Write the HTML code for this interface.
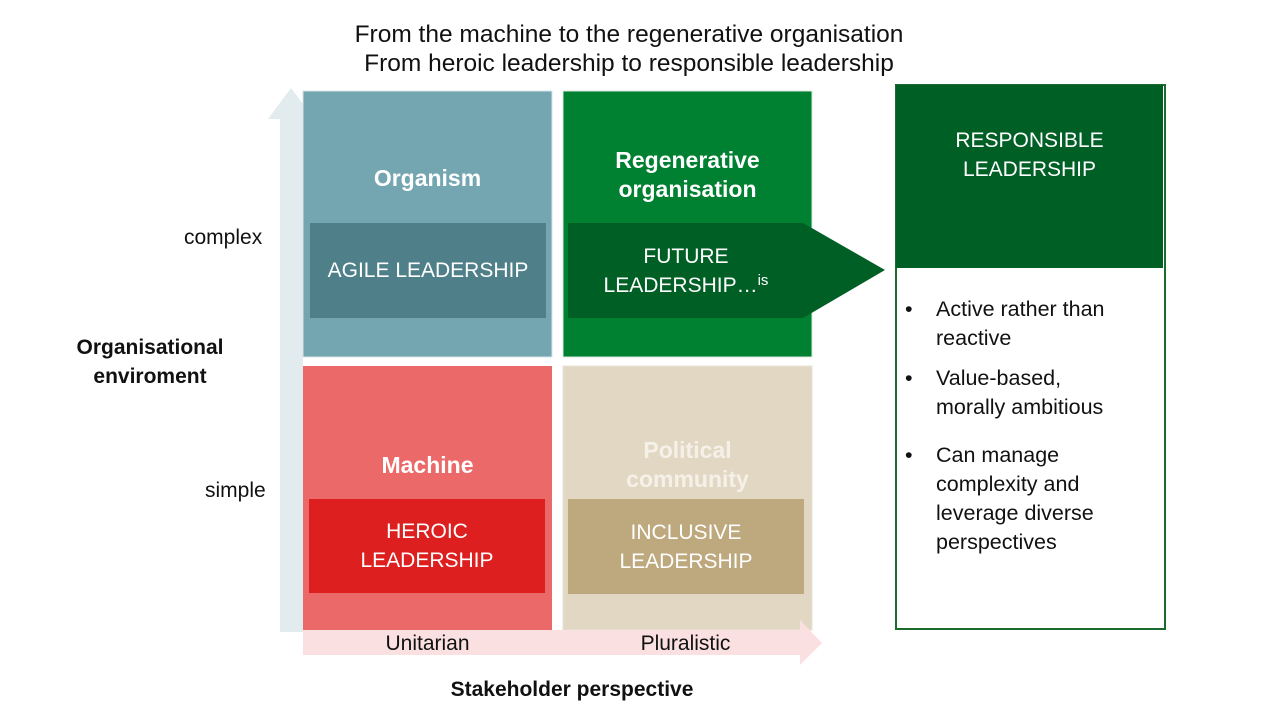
<!DOCTYPE html>
<html><head><meta charset="utf-8"><style>
*{margin:0;padding:0;box-sizing:border-box}
body{width:1280px;height:718px;background:#fff;position:relative;overflow:hidden;font-family:"Liberation Sans",sans-serif}
.a{position:absolute}
.c{display:flex;align-items:center;justify-content:center;text-align:center;color:#fff}
.t{font-size:21px;line-height:29px}
.b{font-weight:bold;font-size:23px;line-height:29px}
</style></head><body>
<div class="a" style="left:0;top:20px;width:1258px;text-align:center;font-size:24.5px;line-height:29px;color:#111">From the machine to the regenerative organisation<br>From heroic leadership to responsible leadership</div>

<svg class="a" style="left:0;top:0" width="1280" height="718">
<polygon points="280,632 280,119 268,119 291,88 314,119 303,119 303,632" fill="#e2ebee"/>
<rect x="303" y="91" width="249" height="266" fill="#73a6b0" stroke="#d8e3e6"/>
<rect x="563" y="91" width="249" height="266" fill="#008031" stroke="#d8e6dc"/>
<rect x="303" y="366" width="249" height="264" fill="#eb6969"/>
<rect x="563" y="366" width="249" height="264" fill="#e2d7c3" stroke="#e6e0d6"/>
<polygon points="303,630 800,630 800,620 822,643 800,665 800,655 303,655" fill="#fbe0e2"/>
<rect x="310" y="223" width="236" height="95" fill="#4f7f89"/>
<polygon points="568,223 803,223 885,270 803,318 568,318" fill="#005f25"/>
<rect x="309" y="499" width="236" height="94" fill="#de1f1f"/>
<rect x="568" y="499" width="236" height="95" fill="#bea87e"/>
<rect x="896" y="85" width="269" height="544" fill="#fff" stroke="#1c6b2e" stroke-width="2"/>
<rect x="896" y="85" width="267" height="183" fill="#005f25"/>
</svg>

<div class="a c b" style="left:303px;top:164px;width:249px">Organism</div>
<div class="a c b" style="left:563px;top:146px;width:249px">Regenerative<br>organisation</div>
<div class="a c b" style="left:303px;top:451px;width:249px">Machine</div>
<div class="a c b" style="left:563px;top:436px;width:249px;color:#f6f1e8">Political<br>community</div>
<div class="a c t" style="left:310px;top:223px;width:236px;height:95px">AGILE LEADERSHIP</div>
<div class="a c t" style="left:568px;top:223px;width:236px;height:95px"><span>FUTURE<br>LEADERSHIP…<span style="font-size:15px;line-height:0;position:relative;top:-7px">is</span></span></div>
<div class="a c t" style="left:309px;top:499px;width:236px;height:94px">HEROIC<br>LEADERSHIP</div>
<div class="a c t" style="left:568px;top:499px;width:236px;height:95px">INCLUSIVE<br>LEADERSHIP</div>
<div class="a c t" style="left:896px;top:126px;width:267px">RESPONSIBLE<br>LEADERSHIP</div>

<div class="a t" style="left:184px;top:223px;color:#111">complex</div>
<div class="a t" style="left:205px;top:476px;color:#111">simple</div>
<div class="a" style="left:40px;top:333px;width:220px;text-align:center;font-weight:bold;font-size:21px;line-height:29px;color:#111">Organisational<br>enviroment</div>
<div class="a t" style="left:303px;top:629px;width:249px;text-align:center;color:#111">Unitarian</div>
<div class="a t" style="left:563px;top:629px;width:245px;text-align:center;color:#111">Pluralistic</div>
<div class="a" style="left:303px;top:675px;width:538px;text-align:center;font-weight:bold;font-size:21px;line-height:29px;color:#111">Stakeholder perspective</div>

<div class="a" style="left:905px;top:295px;width:258px;color:#111;font-size:21.5px;line-height:29px">
<div style="display:flex"><span style="width:31px">•</span><span>Active rather than<br>reactive</span></div>
<div style="display:flex;margin-top:11px"><span style="width:31px">•</span><span>Value-based,<br>morally ambitious</span></div>
<div style="display:flex;margin-top:19px"><span style="width:31px">•</span><span>Can manage<br>complexity and<br>leverage diverse<br>perspectives</span></div>
</div>
</body></html>
